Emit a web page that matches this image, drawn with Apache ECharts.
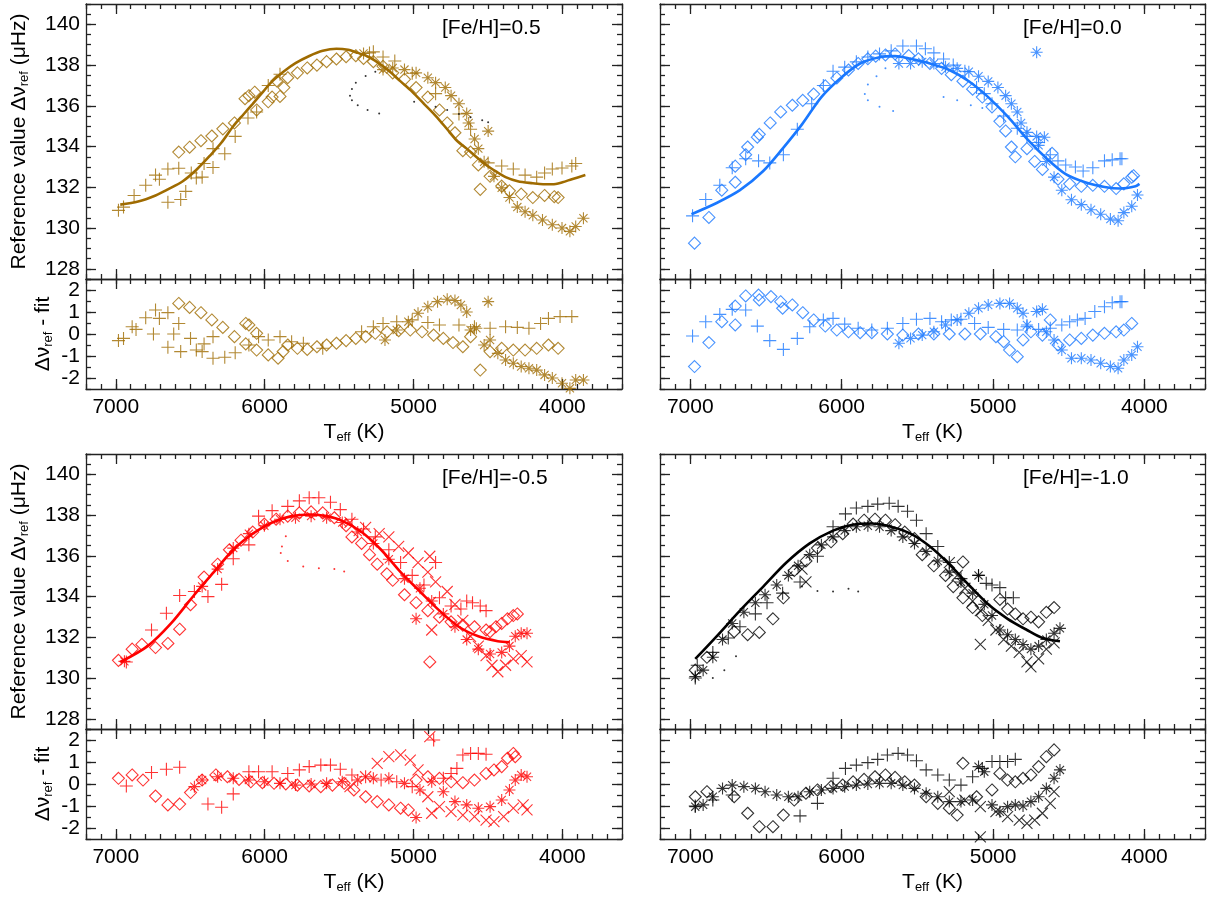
<!DOCTYPE html>
<html>
<head>
<meta charset="utf-8">
<script src="https://cdn.jsdelivr.net/npm/echarts@6/dist/echarts.min.js"></script>
<style>
  html, body { margin: 0; padding: 0; background: #fff; }
  #chart { width: 1213px; height: 900px; }
</style>
</head>
<body>
<div id="chart"></div>
<script>
// tick labels
const xMajor = [7000, 6000, 5000, 4000]
const yMainMajor = [128, 130, 132, 134, 136, 138, 140]
const yResMajor = [-2, -1, 0, 1, 2]
const panelLabels = ['[Fe/H]=0.5', '[Fe/H]=0.0', '[Fe/H]=-0.5', '[Fe/H]=-1.0']

// ---- [Fe/H]=0.5 ----
const fitP05 = [[6970,131.15],[6850,131.3],[6733,131.6],[6650,131.9],[6550,132.3],[6460,132.85],[6368,133.55],[6290,134.2],[6211,135.0],[6140,135.6],[6080,136.1],[6010,136.7],[5950,137.2],[5870,137.7],[5793,138.1],[5700,138.45],[5610,138.7],[5518,138.8],[5440,138.75],[5375,138.6],[5300,138.4],[5244,138.15],[5170,137.75],[5087,137.2],[5010,136.7],[4930,136.1],[4850,135.5],[4774,134.85],[4710,134.3],[4643,133.9],[4580,133.5],[4512,133.1],[4450,132.8],[4382,132.5],[4300,132.3],[4199,132.2],[4130,132.15],[4068,132.15],[4000,132.25],[3937,132.4],[3846,132.6]]
const plusP05 = [[6982,130.87],[6948,131.03],[6877,131.6],[6799,132.1],[6733,132.6],[6707,132.4],[6650,132.9],[6650,131.27],[6577,132.94],[6564,131.4],[6530,131.8],[6493,132.7],[6459,132.46],[6420,132.5],[6407,133.17],[6347,132.97],[6347,133.9],[6268,133.65],[6198,134.5],[6112,135.4],[6054,135.7],[5976,137.0],[5897,137.55],[5296,138.6],[5270,138.65],[5205,138.4],[5126,138.2],[5009,137.6],[4852,136.6],[4695,135.6],[4617,134.85],[4499,133.2],[4408,133.05],[4330,132.9],[4251,132.6],[4173,132.5],[4120,132.7],[4068,132.9],[4003,132.95],[3937,133.05],[3911,133.17]]
const diaP05 = [[6577,133.73],[6504,133.97],[6428,134.29],[6355,134.52],[6281,134.87],[6203,135.16],[6132,136.35],[6106,136.5],[6067,136.67],[6054,135.8],[5976,136.2],[5950,136.43],[5897,136.46],[5871,136.9],[5918,137.22],[5845,137.38],[5780,137.62],[5714,137.86],[5649,138.0],[5584,138.17],[5518,138.3],[5453,138.41],[5388,138.46],[5336,138.33],[5270,138.17],[5205,137.94],[5140,137.62],[5061,137.3],[4983,136.9],[4904,136.43],[4826,135.8],[4774,135.16],[4722,134.68],[4669,133.8],[4617,133.73],[4565,133.1],[4552,131.9],[4486,132.54],[4408,132.06],[4356,131.83],[4277,131.67],[4199,131.5],[4120,131.6],[4055,131.54],[4029,131.5]]
const astP05 = [[5336,138.57],[5205,137.78],[5140,137.86],[5061,137.78],[4983,137.62],[4904,137.38],[4852,137.14],[4787,136.9],[4748,136.5],[4695,136.1],[4643,135.63],[4630,135.16],[4499,134.76],[4590,134.37],[4565,133.9],[4526,133.25],[4460,132.54],[4408,131.98],[4356,131.5],[4303,131.03],[4251,130.8],[4199,130.63],[4134,130.4],[4068,130.16],[4003,130.0],[3950,129.84],[3911,130.08],[3859,130.48]]
const dotP05 = [[5257,137.67],[5322,137.46],[5388,137.14],[5414,136.83],[5427,136.5],[5414,136.27],[5375,136.03],[5309,135.8],[5231,135.63],[4996,136.2],[4930,136.1],[4852,135.95],[4774,135.8],[4695,135.6],[4617,135.44],[4539,135.29],[4499,135.2]]
const plusP05r = [[6982,-0.3],[6948,-0.2],[6890,0.33],[6864,0.21],[6799,0.74],[6733,1.09],[6707,0.71],[6650,0.97],[6747,0],[6650,-0.6],[6577,0.48],[6564,-0.8],[6611,0],[6498,-0.2],[6459,-0.73],[6420,-0.8],[6407,-0.45],[6347,-0.12],[6347,-1.1],[6268,-1.06],[6198,-0.85],[6106,-0.5],[6041,-0.12],[5976,-0.27],[5897,-0.12],[5819,-0.35],[5740,-0.42],[5610,-0.65],[5349,0.1],[5270,0.33],[5205,0.48],[5113,0.56],[5009,0.64],[4904,0.52],[4826,0.41],[4695,0.41],[4591,0.33],[4486,0.26],[4382,0.33],[4303,0.3],[4225,0.26],[4147,0.48],[4094,0.71],[4016,0.79],[3937,0.79]]
const diaP05r = [[6577,1.39],[6504,1.21],[6428,0.97],[6355,0.64],[6281,0.3],[6203,-0.12],[6127,0.48],[6106,0.41],[6127,-0.45],[6054,0.03],[6054,-0.73],[5976,-0.95],[5910,-1.1],[5876,-0.8],[5845,-0.5],[5780,-0.65],[5714,-0.7],[5649,-0.58],[5584,-0.5],[5518,-0.42],[5453,-0.3],[5388,-0.2],[5322,-0.12],[5257,0.03],[5178,0.1],[5100,0.15],[5022,0.18],[4943,0.1],[4865,-0.05],[4800,-0.2],[4735,-0.39],[4669,-0.58],[4617,-0.12],[4552,-1.64],[4486,-0.8],[4408,-0.65],[4330,-0.73],[4251,-0.73],[4173,-0.65],[4094,-0.5],[4029,-0.65]]
const astP05r = [[5192,-0.27],[5113,0.18],[5035,0.56],[4970,0.94],[4904,1.24],[4839,1.47],[4774,1.58],[4722,1.52],[4682,1.32],[4643,1.0],[4499,1.47],[4617,0.18],[4578,0.26],[4526,-0.5],[4486,-0.27],[4434,-0.88],[4382,-1.18],[4330,-1.33],[4277,-1.48],[4225,-1.56],[4173,-1.64],[4120,-1.86],[4068,-2.0],[4003,-2.24],[3950,-2.47],[3911,-2.09],[3859,-2.09]]

// ---- [Fe/H]=0.0 ----
const fitP00 = [[6992,130.68],[6826,131.23],[6672,131.86],[6518,132.8],[6390,133.9],[6262,135.09],[6134,136.43],[6006,137.37],[5878,138.08],[5750,138.39],[5647,138.44],[5545,138.31],[5417,138.08],[5289,137.76],[5160,137.21],[5032,136.43],[4904,135.48],[4776,134.38],[4648,133.43],[4520,132.65],[4392,132.25],[4264,132.02],[4161,131.94],[4059,132.05],[4033,132.17]]
const plusP00 = [[6985,130.6],[6898,131.4],[6805,132.1],[6723,132.96],[6634,133.4],[6549,133.3],[6475,133.2],[6385,133.6],[6293,134.85],[6198,136.1],[6121,137.0],[6057,137.7],[5980,137.9],[5903,138.16],[5827,138.4],[5750,138.55],[5673,138.7],[5596,138.94],[5506,138.94],[5447,138.8],[5391,138.6],[5327,138.3],[5263,138.0],[5186,137.7],[5109,136.9],[5058,136.6],[5007,136.1],[4930,135.5],[4840,134.9],[4776,134.5],[4699,134.2],[4622,133.6],[4571,133.3],[4520,133.1],[4456,133.0],[4405,132.8],[4341,132.96],[4264,133.3],[4213,133.35],[4161,133.4],[4149,133.4]]
const diaP00 = [[6972,129.26],[6877,130.52],[6792,131.86],[6703,132.25],[6703,133.04],[6634,133.6],[6621,133.98],[6557,134.46],[6544,134.6],[6472,135.16],[6403,135.7],[6326,136.03],[6257,136.27],[6185,136.58],[6108,136.98],[6032,137.37],[5955,137.76],[5891,138.08],[5827,138.31],[5775,138.44],[5711,138.5],[5647,138.55],[5557,138.47],[5493,138.31],[5417,138.08],[5340,137.84],[5276,137.53],[5199,137.21],[5135,136.82],[5071,136.43],[5007,135.95],[4955,135.24],[4917,134.77],[4879,133.98],[4853,133.5],[4776,133.9],[4725,133.27],[4674,132.88],[4610,133.67],[4571,132.4],[4494,132.17],[4417,132.05],[4341,132.1],[4264,132.05],[4187,131.94],[4136,132.17],[4084,132.5],[4072,132.57]]
const astP00 = [[4712,138.63],[5622,138.08],[5545,138.08],[5468,138.16],[5391,138.08],[5314,137.92],[5237,137.84],[5160,137.68],[5096,137.45],[5032,137.2],[4968,136.9],[4917,136.5],[4879,136.1],[4840,135.7],[4815,135.16],[4776,134.7],[4712,134.5],[4661,134.46],[4699,134.06],[4648,133.27],[4597,132.5],[4546,131.86],[4482,131.39],[4417,131.15],[4353,130.9],[4289,130.68],[4225,130.44],[4174,130.36],[4136,130.76],[4084,131.07],[4046,131.62]]
const dotP00 = [[5711,137.84],[5770,137.45],[5827,137.05],[5847,136.58],[5827,136.27],[5750,135.95],[5660,135.75],[5327,136.43],[5237,136.27],[5147,136.03],[5071,135.9]]
const plusP00r = [[6985,-0.09],[6898,0.56],[6805,0.89],[6723,1.12],[6634,1.09],[6557,0.36],[6475,-0.3],[6385,-0.7],[6293,-0.2],[6211,0.33],[6121,0.64],[6057,0.71],[5980,0.45],[5891,0.26],[5801,0.18],[5698,0.26],[5596,0.48],[5506,0.67],[5417,0.71],[5340,0.56],[5276,0.64],[5212,0.67],[5122,0.48],[5032,0.3],[4930,0.21],[4840,0.18],[4776,0.33],[4699,0.21],[4622,0.26],[4546,0.41],[4494,0.56],[4443,0.64],[4392,0.71],[4328,1.02],[4264,1.24],[4213,1.42],[4161,1.47],[4149,1.47]]
const diaP00r = [[6972,-1.48],[6877,-0.39],[6792,0.56],[6703,0.41],[6703,1.27],[6634,1.73],[6549,1.77],[6544,1.55],[6467,1.7],[6403,1.47],[6390,1.17],[6326,1.32],[6257,0.97],[6185,0.64],[6108,0.36],[6032,0.18],[5955,0.1],[5878,0.06],[5801,0.06],[5698,0],[5596,-0.05],[5493,0],[5391,0],[5289,0],[5186,0],[5084,0],[4981,-0.12],[4930,-0.35],[4891,-0.73],[4840,-1.03],[4802,-0.27],[4750,0.1],[4674,-0.05],[4622,0.64],[4571,-0.5],[4494,-0.27],[4417,-0.2],[4341,-0.05],[4264,0.03],[4187,0.1],[4136,0.18],[4084,0.48]]
const astP00r = [[5622,-0.42],[5545,-0.2],[5468,-0.05],[5391,0.1],[5314,0.41],[5237,0.64],[5160,0.94],[5096,1.17],[5032,1.32],[4955,1.39],[4891,1.39],[4840,1.17],[4802,0.94],[4776,0.41],[4712,1.02],[4674,1.12],[4648,0.1],[4597,-0.27],[4546,-0.73],[4482,-1.1],[4417,-1.1],[4353,-1.18],[4289,-1.33],[4225,-1.48],[4174,-1.56],[4136,-1.18],[4084,-0.95],[4046,-0.58]]

// ---- [Fe/H]=-0.5 ----
const fitM05 = [[6969,130.79],[6786,131.57],[6629,132.68],[6472,134.09],[6342,135.2],[6211,136.3],[6080,137.09],[5950,137.64],[5819,137.95],[5688,138.03],[5584,137.95],[5479,137.72],[5349,137.17],[5218,136.3],[5087,135.2],[4957,134.25],[4826,133.31],[4696,132.52],[4565,132.05],[4434,131.81],[4356,131.76]]
const plusM05 = [[6929,130.79],[6760,132.36],[6660,133.18],[6571,134.05],[6472,134.25],[6381,134.0],[6289,134.6],[6211,135.86],[6106,136.54],[6041,137.95],[5950,138.22],[5845,138.43],[5767,138.7],[5701,138.85],[5636,138.85],[5558,138.63],[5492,138.27],[5414,137.8],[5336,137.32],[5257,136.93],[5166,136.3],[5087,135.67],[5009,135.04],[4930,134.57],[4852,135.67],[4826,133.94],[4748,133.54],[4682,133.39],[4643,133.78],[4604,133.7],[4552,133.54],[4513,133.31]]
const diaM05 = [[6982,130.87],[6890,131.42],[6825,131.65],[6733,131.5],[6650,131.7],[6571,132.4],[6498,133.6],[6407,134.96],[6316,135.59],[6237,136.3],[6159,136.77],[6080,137.17],[6002,137.56],[5923,137.8],[5845,137.95],[5767,138.11],[5688,138.16],[5610,138.11],[5532,137.87],[5453,137.48],[5414,136.93],[5349,136.61],[5296,136.06],[5244,135.59],[5179,135.12],[5140,134.8],[5061,134.09],[4983,133.7],[4904,133.31],[4891,130.79],[4826,132.99],[4748,132.76],[4669,132.6],[4591,132.52],[4513,132.36],[4486,132.28],[4447,132.52],[4408,132.68],[4369,132.91],[4330,133.07],[4303,133.15]]
const astM05 = [[6942,130.82],[6420,134.5],[6316,135.35],[6211,136.38],[6106,137.09],[6002,137.48],[5897,137.8],[5793,137.87],[5688,137.95],[5584,137.87],[5479,137.64],[5375,137.17],[5270,136.61],[5166,135.83],[5061,134.88],[4983,132.91],[4957,134.41],[4878,133.78],[4800,133.15],[4722,132.52],[4643,131.89],[4565,131.42],[4486,131.18],[4408,131.26],[4356,131.57],[4317,132.05],[4277,132.2],[4238,132.2]]
const crsM05 = [[5427,137.64],[5322,137.4],[5231,137.09],[5166,136.93],[5100,136.46],[5035,136.14],[4970,135.67],[4904,135.2],[4891,135.98],[4852,134.72],[4774,134.25],[4722,133.62],[4669,132.83],[4617,132.05],[4565,131.57],[4513,131.1],[4473,130.63],[4434,130.31],[4382,130.63],[4330,130.94],[4277,131.1],[4238,130.79],[4878,132.36]]
const dotM05 = [[5858,136.96],[5884,136.46],[5892,136.14],[5845,135.75],[5741,135.48],[5636,135.39],[5532,135.35],[5466,135.23]]
const plusM05r = [[6929,-0.09],[6760,0.52],[6660,0.67],[6571,0.76],[6381,-0.91],[6289,-1.06],[6211,-0.45],[6106,0.56],[6041,0.56],[5950,0.56],[5845,0.48],[5767,0.64],[5701,0.79],[5623,0.86],[5558,0.86],[5492,0.67],[5414,0.41],[5322,0.33],[5218,0.18],[5113,0.1],[5009,-0.12],[4865,2.0],[4800,0.26],[4748,0.48],[4709,0.71],[4669,1.32],[4617,1.39],[4565,1.39],[4513,1.35]]
const diaM05r = [[6982,0.26],[6890,0.41],[6817,0.18],[6733,-0.55],[6650,-0.95],[6571,-0.91],[6498,-0.39],[6420,0.18],[6328,0.41],[6250,0.33],[6172,0.21],[6093,0.1],[6015,0.06],[5937,0.03],[5858,0],[5780,-0.05],[5701,-0.09],[5623,-0.12],[5545,-0.05],[5466,0.03],[5401,-0.27],[5322,-0.58],[5244,-0.8],[5166,-0.95],[5087,-1.1],[5035,-1.18],[4983,0.18],[4904,0.33],[4826,0.26],[4748,0.1],[4669,0.06],[4591,0.18],[4513,0.48],[4460,0.64],[4408,0.79],[4369,1.17],[4330,1.39],[4317,1.24]]
const astM05r = [[6472,-0.12],[6420,0.18],[6316,0.33],[6211,0.26],[6106,0.18],[6002,0.1],[5897,0.03],[5793,-0.05],[5688,0],[5584,0.03],[5479,0.1],[5375,0.18],[5270,0.26],[5166,0.26],[5061,0.03],[4983,-1.52],[4957,-0.27],[4878,0.1],[4800,-0.35],[4722,-0.8],[4643,-0.95],[4565,-1.1],[4486,-1.03],[4408,-0.73],[4356,-0.27],[4317,0.18],[4277,0.41],[4238,0.33]]
const crsM05r = [[5427,-0.12],[5322,0.33],[5244,0.94],[5166,1.24],[5087,1.32],[5022,1.09],[4970,0.64],[4891,2.15],[4904,-0.58],[4826,-1.03],[4748,-1.26],[4669,-1.41],[4591,-1.48],[4513,-1.64],[4460,-1.71],[4395,-1.48],[4330,-1.1],[4264,-0.95],[4238,-1.18],[4878,-1.33]]

// ---- [Fe/H]=-1.0 ----
const fitM10 = [[6967,130.94],[6826,132.05],[6672,133.31],[6518,134.49],[6365,135.67],[6211,136.61],[6057,137.24],[5929,137.53],[5801,137.59],[5673,137.43],[5545,137.09],[5417,136.46],[5289,135.59],[5160,134.57],[5032,133.62],[4904,132.91],[4776,132.36],[4674,131.97],[4558,131.81]]
const plusM10 = [[5975,138.06],[5903,138.35],[5827,138.43],[5762,138.54],[5686,138.58],[5627,138.43],[5565,138.19],[5506,137.75],[6057,137.43],[5442,137.09],[5365,136.46],[5289,135.67],[5212,134.88],[5096,135.04],[5045,134.65],[5007,134.57],[4955,134.44],[4917,133.94],[4866,133.94],[6160,135.98],[6275,134.72],[6390,134.17],[6493,133.7],[6570,133.15],[6672,132.52],[6749,131.97],[6851,131.26],[6954,130.63],[6967,130.0]]
const diaM10 = [[6967,130.39],[6890,131.02],[6710,132.28],[6621,132.13],[6544,132.24],[6454,132.91],[6385,133.94],[6313,135.28],[6236,135.75],[6160,136.38],[6070,136.69],[5993,137.09],[5924,137.56],[5852,137.75],[5780,137.8],[5711,137.75],[5647,137.53],[5583,137.17],[5519,136.85],[5468,136.06],[5391,135.51],[5314,135.04],[5199,135.7],[5263,134.49],[5199,133.94],[5135,133.46],[5071,133.07],[4955,133.86],[4904,133.39],[4853,133.15],[4802,132.91],[4750,132.99],[4699,132.76],[4648,133.23],[4597,133.46]]
const astM10 = [[6967,130.08],[6915,130.39],[6851,131.02],[6787,131.89],[6723,132.68],[6646,133.23],[6570,133.7],[6506,134.09],[6429,134.57],[6352,135.04],[6288,135.51],[6211,136.06],[6134,136.54],[6057,136.93],[5980,137.24],[5903,137.43],[5827,137.48],[5750,137.43],[5673,137.24],[5596,136.93],[5519,136.61],[5442,136.22],[5365,135.75],[5289,135.2],[5212,134.72],[5135,134.17],[5096,135.04],[5058,133.62],[5007,133.07],[4955,132.36],[4904,132.13],[4853,131.89],[4802,131.65],[4750,131.42],[4699,131.57],[4648,131.89],[4597,132.2],[4558,132.44]]
const crsM10 = [[5084,131.65],[5289,135.67],[5237,135.04],[5186,134.41],[5135,133.78],[5084,133.31],[5032,132.83],[4981,132.36],[4930,131.89],[4879,131.57],[4827,131.26],[4776,130.79],[4750,130.55],[4699,130.94],[4648,131.42],[4597,131.73],[6236,134.72],[6262,135.35]]
const dotM10 = [[6262,134.49],[6160,134.28],[6057,134.25],[5955,134.38],[5891,134.25],[6851,130.0],[6775,130.39],[6698,131.07]]
const plusM10r = [[6967,-1.0],[6851,-0.73],[6723,-0.5],[6275,-1.45],[6160,-0.88],[6057,0.26],[5975,0.71],[5903,0.86],[5827,0.97],[5762,1.12],[5698,1.32],[5627,1.39],[5565,1.32],[5506,1.06],[5442,0.64],[5365,0.41],[5289,0.18],[5212,-0.05],[5135,0.33],[5071,0.71],[5007,1.02],[4955,1.02],[4904,1.02],[4853,1.12]]
const diaM10r = [[6967,-0.58],[6890,-0.35],[6710,-0.58],[6621,-1.33],[6544,-1.94],[6454,-1.94],[6385,-1.41],[6313,-0.73],[6236,-0.42],[6160,-0.27],[6070,-0.12],[5993,-0.05],[5924,0.1],[5852,0.21],[5780,0.33],[5711,0.41],[5647,0.3],[5583,0.1],[5519,-0.05],[5442,-0.58],[5365,-0.88],[5289,-1.1],[5199,0.94],[5237,-1.41],[5109,-0.58],[5007,-0.27],[4955,0.48],[4904,0.18],[4853,0.1],[4802,0.26],[4750,0.41],[4699,0.79],[4648,1.24],[4597,1.55]]
const astM10r = [[6967,-1.03],[6915,-0.95],[6851,-0.58],[6787,-0.2],[6723,-0.05],[6646,-0.12],[6570,-0.2],[6506,-0.35],[6429,-0.5],[6352,-0.58],[6288,-0.58],[6211,-0.35],[6134,-0.27],[6057,-0.2],[5980,-0.12],[5903,-0.05],[5827,0],[5750,0.03],[5673,0.03],[5596,-0.05],[5519,-0.2],[5442,-0.42],[5365,-0.58],[5289,-0.8],[5212,-0.8],[5135,-0.73],[5096,0.79],[5058,0.56],[5007,-0.95],[4955,-1.26],[4904,-1.03],[4853,-0.95],[4802,-1.0],[4750,-0.8],[4699,-0.58],[4648,-0.2],[4597,0.26],[4558,0.64]]
const crsM10r = [[5084,-2.4],[5289,-0.35],[5186,-0.73],[5084,-1.03],[4981,-1.26],[4904,-1.48],[4827,-1.64],[4776,-1.79],[4725,-1.64],[4674,-1.33],[4622,-0.88],[4597,-0.35]]

const FONT = 'Liberation Sans, Arial, Helvetica, sans-serif'
const SYM = {
  plus: 'path://M0,5L10,5M5,0L5,10',
  cross: 'path://M0,0L10,10M10,0L0,10',
  star: 'path://M5,0L5,10M0,5L10,5M1.6,1.6L8.4,8.4M8.4,1.6L1.6,8.4',
  diamond: 'diamond'
}
const SYM_SIZE = { plus: 13, cross: 11, star: 12, diamond: 12 }

const panels = [
  { color: '#9F6B00', dotColor: '#000', fit: fitP05, dots: dotP05,
    main: { plus: plusP05, diamond: diaP05, star: astP05 },
    res: { plus: plusP05r, diamond: diaP05r, star: astP05r } },
  { color: '#1A78FF', dotColor: '#1A78FF', fit: fitP00, dots: dotP00,
    main: { plus: plusP00, diamond: diaP00, star: astP00 },
    res: { plus: plusP00r, diamond: diaP00r, star: astP00r } },
  { color: '#FF0000', dotColor: '#FF0000', fit: fitM05, dots: dotM05,
    main: { plus: plusM05, diamond: diaM05, star: astM05, cross: crsM05 },
    res: { plus: plusM05r, diamond: diaM05r, star: astM05r, cross: crsM05r } },
  { color: '#000000', dotColor: '#000', fit: fitM10, dots: dotM10,
    main: { plus: plusM10, diamond: diaM10, star: astM10, cross: crsM10 },
    res: { plus: plusM10r, diamond: diaM10r, star: astM10r, cross: crsM10r } }
]

const grid = []
const xAxis = []
const yAxis = []
const series = []
const graphic = []
const lineStyle = { color: '#222', width: 1.3 }
const labelStyle = { color: '#000', fontSize: 21, fontFamily: FONT }
const subRich = { sub: { fontSize: 13, fontFamily: FONT, padding: [10, 0, 0, 0] } }
const plain = v => String(v)

function addAxes (g, isRes, col) {
  const xBase = { gridIndex: g, type: 'value', min: 3600, max: 7200, inverse: true, splitLine: { show: false } }
  const xi = xAxis.length
  ;['bottom', 'top'].forEach(pos => {
    xAxis.push(Object.assign({}, xBase, {
      position: pos, interval: 100,
      axisLine: { show: true, onZero: false, lineStyle },
      axisTick: { inside: true, length: 5, lineStyle },
      axisLabel: { show: false }
    }))
    const major = Object.assign({}, xBase, {
      position: pos,
      axisLine: { show: false, onZero: false },
      axisTick: { inside: true, length: 10, customValues: xMajor, lineStyle },
      axisLabel: { show: isRes && pos === 'bottom', customValues: xMajor, margin: 8, formatter: plain, ...labelStyle }
    })
    if (isRes && pos === 'bottom') {
      major.name = 'T{sub|eff} (K)'
      major.nameLocation = 'middle'
      major.nameGap = 32
      major.nameTextStyle = { ...labelStyle, rich: subRich }
    }
    xAxis.push(major)
  })
  const yMin = isRes ? -2.5 : 127.5
  const yMax = isRes ? 2.5 : 141
  const yMajor = isRes ? yResMajor : yMainMajor
  const yBase = { gridIndex: g, type: 'value', min: yMin, max: yMax, splitLine: { show: false } }
  const yi = yAxis.length
  ;['left', 'right'].forEach(pos => {
    yAxis.push(Object.assign({}, yBase, {
      position: pos, interval: 0.5,
      axisLine: { show: true, onZero: false, lineStyle },
      axisTick: { inside: true, length: 5, lineStyle },
      axisLabel: { show: false }
    }))
    const major = Object.assign({}, yBase, {
      position: pos,
      axisLine: { show: false, onZero: false },
      axisTick: { inside: true, length: 10, customValues: yMajor, lineStyle },
      axisLabel: { show: col === 0 && pos === 'left', customValues: yMajor, margin: 6, formatter: plain, ...labelStyle }
    })
    if (col === 0 && pos === 'left') {
      major.name = isRes ? '\u0394\u03bd{sub|ref} - fit' : 'Reference value \u0394\u03bd{sub|ref} (\u03bcHz)'
      major.nameLocation = 'middle'
      major.nameRotate = 90
      major.nameGap = isRes ? 31 : 55
      major.nameTextStyle = { ...labelStyle, rich: subRich }
    }
    yAxis.push(major)
  })
  return { xi, yi }
}

function addScatter (ax, data, shape, color) {
  series.push({
    type: 'scatter', xAxisIndex: ax.xi, yAxisIndex: ax.yi, data,
    symbol: SYM[shape], symbolSize: SYM_SIZE[shape], silent: true,
    itemStyle: { color: 'rgba(0,0,0,0)', borderColor: color, borderWidth: 1.1 }
  })
}

panels.forEach((p, i) => {
  const col = i % 2
  const row = Math.floor(i / 2)
  const left = col ? 660 : 86
  const width = col ? 545 : 536
  const top = 4 + row * 450
  grid.push({ left, width, top, height: 275 })
  grid.push({ left, width, top: top + 275, height: 110 })
  const axMain = addAxes(2 * i, false, col)
  const axRes = addAxes(2 * i + 1, true, col)

  Object.keys(p.main).forEach(k => addScatter(axMain, p.main[k], k, p.color))
  series.push({
    type: 'scatter', xAxisIndex: axMain.xi, yAxisIndex: axMain.yi, data: p.dots,
    symbol: 'circle', symbolSize: 2, silent: true, itemStyle: { color: p.dotColor }
  })
  series.push({
    type: 'line', xAxisIndex: axMain.xi, yAxisIndex: axMain.yi, data: p.fit,
    showSymbol: false, smooth: 0.3, silent: true, z: 3,
    lineStyle: { color: p.color, width: 2.6 }
  })
  Object.keys(p.res).forEach(k => addScatter(axRes, p.res[k], k, p.color))

  graphic.push({
    type: 'text', x: col ? 1023 : 442, y: 28 + row * 450,
    style: { text: panelLabels[i], fontSize: 21, fontFamily: FONT, fill: '#000', verticalAlign: 'middle' }
  })
})

const chart = echarts.init(document.getElementById('chart'))
chart.setOption({
  animation: false,
  backgroundColor: '#fff',
  grid, xAxis, yAxis, series, graphic
})
</script>
</body>
</html>
